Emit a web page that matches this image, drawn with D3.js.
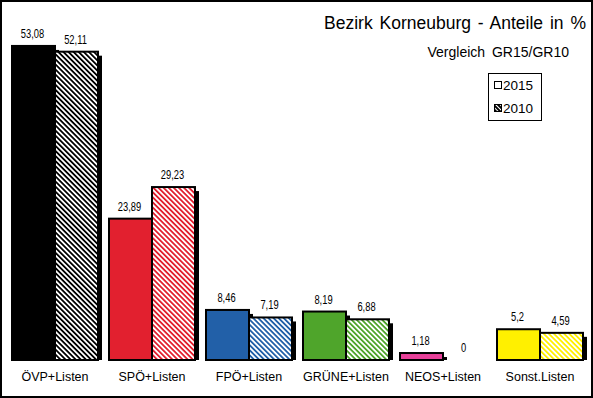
<!DOCTYPE html>
<html><head><meta charset="utf-8">
<script src="https://cdn.jsdelivr.net/npm/d3@7"></script>
<style>body{margin:0;background:#fff}svg{display:block}</style>
</head><body><svg id="c" width="593" height="398"></svg>
<script>
const categories = ["ÖVP+Listen","SPÖ+Listen","FPÖ+Listen","GRÜNE+Listen","NEOS+Listen","Sonst.Listen"];
const series = ["2015","2010"];
const values2015 = [53.08, 23.89, 8.46, 8.19, 1.18, 5.2];
const values2010 = [52.11, 29.23, 7.19, 6.88, 0, 4.59];
const valueLabels2015 = ["53,08","23,89","8,46","8,19","1,18","5,2"];
const valueLabels2010 = ["52,11","29,23","7,19","6,88","0","4,59"];
const colors = ["#000000","#e2202f","#2260a8","#4fa52b","#e8419a","#fff000"];
const title = "Bezirk Korneuburg - Anteile in %";
const subtitle = "Vergleich GR15/GR10";

const svg = d3.select("#c");
const W = 593, H = 398;
const base = 360;
const FONT = "'Liberation Sans',Arial,sans-serif";
const x = d3.scaleBand().domain(categories).range([6.5, 588.5]).paddingInner(11/97).paddingOuter(11/194);
const xs = d3.scaleBand().domain(series).range([0, x.bandwidth()]);
const y = d3.scaleLinear().domain([0, 60]).range([base, 5]);

const defs = svg.append("defs");
colors.forEach((c, i) => {
  const p = defs.append("pattern").attr("id", "h" + i).attr("patternUnits", "userSpaceOnUse")
    .attr("width", 3.6).attr("height", 3.6).attr("patternTransform", "rotate(-45)");
  p.append("rect").attr("width", 3.6).attr("height", 3.6).attr("fill", "#fff");
  p.append("rect").attr("width", 1.8).attr("height", 3.6).attr("fill", c);
});
const lp = defs.append("pattern").attr("id", "lg").attr("patternUnits", "userSpaceOnUse")
  .attr("width", 3).attr("height", 3).attr("patternTransform", "rotate(-45)");
lp.append("rect").attr("width", 3).attr("height", 3).attr("fill", "#000");
lp.append("rect").attr("width", 1).attr("height", 3).attr("fill", "#fff");

const data = [];
categories.forEach((cat, i) => {
  data.push({cat, s: "2015", v: values2015[i], lab: valueLabels2015[i], fill: colors[i]});
  data.push({cat, s: "2010", v: values2010[i], lab: valueLabels2010[i], fill: "url(#h" + i + ")"});
});
const bx = d => x(d.cat) + xs(d.s);
const bars = data.filter(d => d.v > 0);

// shadows
svg.append("g").selectAll("rect").data(bars).join("rect")
  .attr("x", d => bx(d) + 4).attr("y", d => y(d.v) + 4)
  .attr("width", xs.bandwidth()).attr("height", d => Math.max(0, base - y(d.v) - 4))
  .attr("fill", "#000");
// bars
svg.append("g").selectAll("rect").data(bars).join("rect")
  .attr("x", d => bx(d)).attr("y", d => y(d.v))
  .attr("width", xs.bandwidth()).attr("height", d => base - y(d.v))
  .attr("fill", d => d.fill).attr("stroke", "#000").attr("stroke-width", 2);
// value labels (narrow)
svg.append("g").selectAll("text").data(data).join("text")
  .attr("transform", d => `translate(${bx(d) + xs.bandwidth() / 2 - 1},${y(d.v) - 8}) scale(0.78,1)`)
  .attr("text-anchor", "middle")
  .attr("font-family", FONT).attr("font-size", 12)
  .attr("fill", "#000").text(d => d.lab);
// category labels
svg.append("g").selectAll("text").data(categories).join("text")
  .attr("x", d => x(d) + x.bandwidth() / 2).attr("y", 381)
  .attr("text-anchor", "middle")
  .attr("font-family", FONT).attr("font-size", 12.5)
  .attr("fill", "#000").text(d => d);

// titles
svg.append("text").attr("x", 586).attr("y", 29).attr("text-anchor", "end")
  .attr("font-family", FONT).attr("font-size", 17.5)
  .attr("word-spacing", 2).text(title);
svg.append("text").attr("x", 569).attr("y", 57).attr("text-anchor", "end")
  .attr("font-family", FONT).attr("font-size", 14)
  .attr("word-spacing", 3).text(subtitle);

// legend
const lg = svg.append("g");
lg.append("rect").attr("x", 488.5).attr("y", 73.5).attr("width", 53).attr("height", 47)
  .attr("fill", "#fff").attr("stroke", "#000").attr("stroke-width", 1);
const lItems = [{s: series[0], f: "#fff"}, {s: series[1], f: "url(#lg)"}];
lItems.forEach((it, i) => {
  const yy = 85 + i * 23;
  lg.append("rect").attr("x", 494.5).attr("y", yy - 3.5).attr("width", 7).attr("height", 7)
    .attr("fill", it.f).attr("stroke", "#000").attr("stroke-width", 1);
  lg.append("text").attr("x", 503).attr("y", yy + 5)
    .attr("font-family", FONT).attr("font-size", 13.5).text(it.s);
});

// outer frame
svg.append("rect").attr("x", 1).attr("y", 1).attr("width", W - 2).attr("height", H - 2)
  .attr("fill", "none").attr("stroke", "#000").attr("stroke-width", 2);
</script></body></html>
